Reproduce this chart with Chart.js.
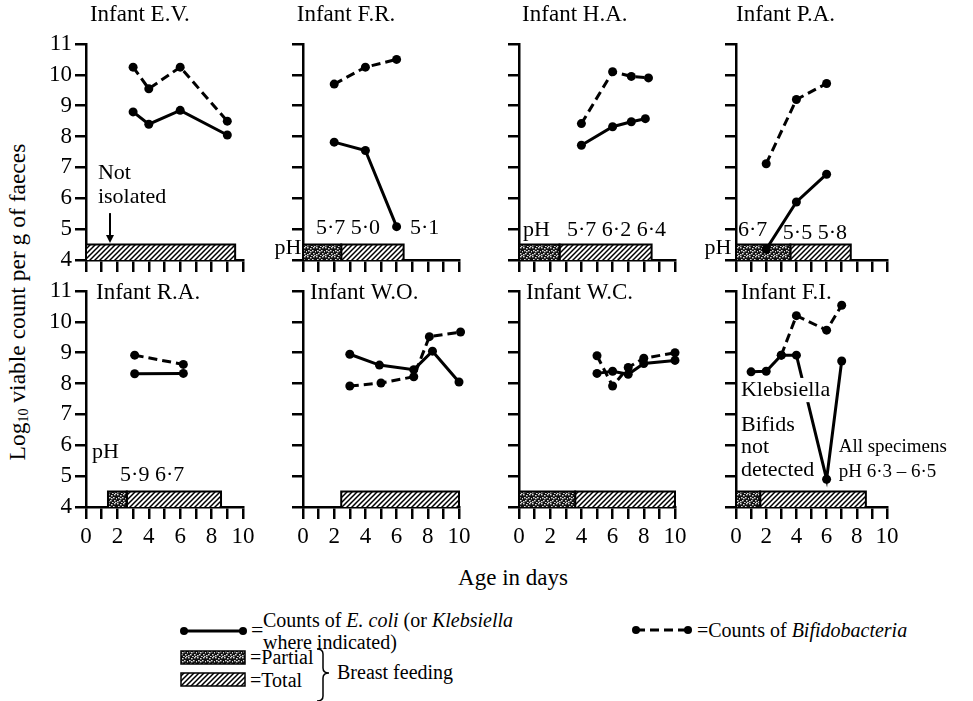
<!DOCTYPE html>
<html>
<head>
<meta charset="utf-8">
<script src="https://cdn.jsdelivr.net/npm/chart.js@4.4.1/dist/chart.umd.min.js"></script>
<style>
  body { margin: 0; background: #fff; width: 973px; height: 701px; position: relative; overflow: hidden;
         font-family: "Liberation Serif", "Times New Roman", serif; color: #000; }
  canvas { position: absolute; }
  .t { position: absolute; white-space: nowrap; line-height: 1; transform: translateY(-50%); }
  .t sub { font-size: 14px; vertical-align: -3px; }
</style>
</head>
<body>

<div class="t" style="left:18px;top:302px;font-size:23.5px;transform:translate(-50%,-50%) rotate(-90deg)">Log<sub>10</sub> viable count per g of faeces</div>
<div class="t" style="left:513px;top:577px;font-size:23px;transform:translate(-50%,-50%)">Age in days</div>

<div class="t" style="left:251px;top:630px;font-size:22px">=</div>
<div class="t" style="left:263px;top:620px;font-size:20px">Counts of <i>E. coli</i> (or <i>Klebsiella</i></div>
<div class="t" style="left:263px;top:642px;font-size:20px">where indicated)</div>
<div class="t" style="left:697px;top:630px;font-size:20px">=Counts of <i>Bifidobacteria</i></div>
<div class="t" style="left:250px;top:657px;font-size:20px">=Partial</div>
<div class="t" style="left:250px;top:680px;font-size:20px">=Total</div>
<div class="t" style="left:337px;top:672px;font-size:20px">Breast feeding</div>

<canvas id="legendKey" width="540" height="90" style="left:170px;top:612px"></canvas>

<script>
// age in days at sampling and log10 counts per g
const evColiDays = [3, 4, 6, 9];
const evColi = [8.8, 8.4, 8.85, 8.05];
const evBifDays = [3, 4, 6, 9];
const evBif = [10.25, 9.55, 10.25, 8.5];

const frColiDays = [2, 4, 6];
const frColi = [7.82, 7.55, 5.08];
const frBifDays = [2, 4, 6];
const frBif = [9.7, 10.25, 10.5];

const haColiDays = [4, 6, 7.2, 8.1];
const haColi = [7.72, 8.32, 8.48, 8.58];
const haBifDays = [4, 6, 7.2, 8.3];
const haBif = [8.42, 10.1, 9.95, 9.9];

const paColiDays = [2, 4, 6];
const paColi = [4.35, 5.88, 6.78];
const paBifDays = [2, 4, 6];
const paBif = [7.12, 9.2, 9.72];

const raColiDays = [3.1, 6.2];
const raColi = [8.32, 8.33];
const raBifDays = [3.1, 6.2];
const raBif = [8.92, 8.62];

const woColiDays = [3, 4.9, 7.1, 8.3, 10];
const woColi = [8.95, 8.6, 8.45, 9.05, 8.05];
const woBifDays = [3, 5, 7.1, 8.1, 10.1];
const woBif = [7.92, 8.02, 8.22, 9.52, 9.67];

const wcColiDays = [5, 6, 7, 8, 10];
const wcColi = [8.33, 8.4, 8.3, 8.65, 8.75];
const wcBifDays = [5, 6, 7, 8, 10];
const wcBif = [8.9, 7.92, 8.52, 8.82, 9.0];

const fiColiDays = [1, 2, 3, 4, 6, 7];
const fiColi = [8.38, 8.4, 8.92, 8.92, 4.9, 8.73];
const fiBifDays = [3, 4, 6, 7];
const fiBif = [8.92, 10.2, 9.73, 10.54];

// breast feeding periods [from day, to day]
const evPartial = null, evTotal = [0, 9.5];
const frPartial = [0, 2.45], frTotal = [2.45, 6.45];
const haPartial = [0, 2.6], haTotal = [2.6, 8.5];
const paPartial = [0, 3.6], paTotal = [3.6, 7.6];
const raPartial = [1.4, 2.6], raTotal = [2.6, 8.6];
const woPartial = null, woTotal = [2.45, 10];
const wcPartial = [0, 3.6], wcTotal = [3.6, 10];
const fiPartial = [0, 1.6], fiTotal = [1.6, 8.6];

const xTicks = [0, 2, 4, 6, 8, 10];
const yTicks = [4, 5, 6, 7, 8, 9, 10, 11];
const BAR_TOP = 4.5;

const FONT = '"Liberation Serif", "Times New Roman", serif';

// layout of the 2 x 4 grid
const colLeft = [86, 303, 519, 736];
const colWidth = [157, 156, 156, 151];
const rowTop = [44, 291];
const AREA_H = 216;
const PAD_L = 50, PAD_T = 40, PAD_R = 64, PAD_B = 45;

function hatch() {
  const c = document.createElement('canvas');
  c.width = 5; c.height = 5;
  const g = c.getContext('2d');
  g.fillStyle = '#fff'; g.fillRect(0, 0, 5, 5);
  g.strokeStyle = '#000'; g.lineWidth = 1.5;
  g.beginPath();
  g.moveTo(0, 5); g.lineTo(5, 0);
  g.moveTo(-1, 1); g.lineTo(1, -1);
  g.moveTo(4, 6); g.lineTo(6, 4);
  g.stroke();
  return g.createPattern(c, 'repeat');
}

function stipple() {
  const c = document.createElement('canvas');
  c.width = 9; c.height = 9;
  const g = c.getContext('2d');
  g.fillStyle = '#111'; g.fillRect(0, 0, 9, 9);
  g.fillStyle = '#ddd';
  [[0,0],[3,1],[6,0],[1,3],[5,3],[8,4],[2,6],[6,6],[0,7],[4,8],[7,8],[3,4]].forEach(([a, b]) => g.fillRect(a, b, 1.6, 1.4));
  return g.createPattern(c, 'repeat');
}

const hatchFill = hatch();
const stippleFill = stipple();

function makeNotes(items) {
  return {
    id: 'notes',
    afterDatasetsDraw(chart) {
      const { ctx, scales: { x, y } } = chart;
      ctx.save();
      ctx.textBaseline = 'middle';
      items.forEach(n => {
        const px = x.getPixelForValue(n.x), py = y.getPixelForValue(n.y);
        if (n.arrow) {
          const py2 = y.getPixelForValue(n.to);
          ctx.strokeStyle = '#000'; ctx.lineWidth = 2;
          ctx.beginPath(); ctx.moveTo(px, py); ctx.lineTo(px, py2 - 6); ctx.stroke();
          ctx.fillStyle = '#000';
          ctx.beginPath(); ctx.moveTo(px - 4, py2 - 8); ctx.lineTo(px + 4, py2 - 8); ctx.lineTo(px, py2); ctx.closePath(); ctx.fill();
          return;
        }
        const size = n.size || 22;
        ctx.font = size + 'px ' + FONT;
        ctx.textAlign = n.align || 'left';
        if (n.bg) {
          const w = ctx.measureText(n.text).width;
          ctx.fillStyle = '#fff';
          ctx.fillRect(px - 2, py - size * 0.55, w + 4, size * 1.1);
        }
        ctx.fillStyle = '#000';
        ctx.fillText(n.text, px, py);
      });
      ctx.restore();
    }
  };
}

const TOP_T = 11.93, BOT_T = 10.93;

const panels = [
  { col: 0, row: 0, cx: evColiDays, cy: evColi, bx: evBifDays, by: evBif, partial: evPartial, total: evTotal,
    notes: [{ text: 'Infant E.V.', x: 0.25, y: TOP_T, size: 23 },
            { text: 'Not', x: 0.76, y: 6.81 }, { text: 'isolated', x: 0.76, y: 6.04 },
            { arrow: true, x: 1.53, y: 5.52, to: 4.55 }] },
  { col: 1, row: 0, cx: frColiDays, cy: frColi, bx: frBifDays, by: frBif, partial: frPartial, total: frTotal,
    notes: [{ text: 'Infant F.R.', x: -0.4, y: TOP_T, size: 23 },
            { text: '5·7 5·0', x: 0.83, y: 5.03 }, { text: '5·1', x: 6.86, y: 5.03 },
            { text: 'pH', x: -0.1, y: 4.38, align: 'right' }] },
  { col: 2, row: 0, cx: haColiDays, cy: haColi, bx: haBifDays, by: haBif, partial: haPartial, total: haTotal,
    notes: [{ text: 'Infant H.A.', x: 0.2, y: TOP_T, size: 23 },
            { text: 'pH', x: 0.25, y: 4.97 }, { text: '5·7 6·2 6·4', x: 3.08, y: 4.97 }] },
  { col: 3, row: 0, cx: paColiDays, cy: paColi, bx: paBifDays, by: paBif, partial: paPartial, total: paTotal,
    notes: [{ text: 'Infant P.A.', x: 0, y: TOP_T, size: 23 },
            { text: '6·7', x: 0.13, y: 4.97 }, { text: '5·5 5·8', x: 3.1, y: 4.87 },
            { text: 'pH', x: -0.3, y: 4.38, align: 'right' }] },
  { col: 0, row: 1, cx: raColiDays, cy: raColi, bx: raBifDays, by: raBif, partial: raPartial, total: raTotal,
    notes: [{ text: 'Infant R.A.', x: 0.64, y: BOT_T, size: 23 },
            { text: 'pH', x: 0.38, y: 5.78 }, { text: '5·9 6·7', x: 2.17, y: 5.04 }] },
  { col: 1, row: 1, cx: woColiDays, cy: woColi, bx: woBifDays, by: woBif, partial: woPartial, total: woTotal,
    notes: [{ text: 'Infant W.O.', x: 0.45, y: BOT_T, size: 23 }] },
  { col: 2, row: 1, cx: wcColiDays, cy: wcColi, bx: wcBifDays, by: wcBif, partial: wcPartial, total: wcTotal,
    notes: [{ text: 'Infant W.C.', x: 0.45, y: BOT_T, size: 23 }] },
  { col: 3, row: 1, cx: fiColiDays, cy: fiColi, bx: fiBifDays, by: fiBif, partial: fiPartial, total: fiTotal,
    notes: [{ text: 'Infant F.I.', x: 0.33, y: BOT_T, size: 23 },
            { text: 'Klebsiella', x: 0.33, y: 7.79, bg: true },
            { text: 'Bifids', x: 0.33, y: 6.65 }, { text: 'not', x: 0.33, y: 5.95 },
            { text: 'detected', x: 0.33, y: 5.2 },
            { text: 'All specimens', x: 6.8, y: 5.95, size: 19 },
            { text: 'pH 6·3 – 6·5', x: 6.8, y: 5.14, size: 19 }] }
];

function points(xs, ys) {
  return xs.map((d, i) => ({ x: d, y: ys[i] }));
}

function feedBar(span, fill) {
  return {
    data: [{ x: span[0], y: 4 }, { x: span[0], y: BAR_TOP }, { x: span[1], y: BAR_TOP }, { x: span[1], y: 4 }],
    borderColor: '#000', borderWidth: 2, backgroundColor: fill, fill: 'start',
    pointRadius: 0, tension: 0, order: 5, clip: 2
  };
}

function series(xs, ys, dashed) {
  return {
    data: points(xs, ys),
    borderColor: '#000', backgroundColor: '#000', borderWidth: 3,
    borderDash: dashed ? [9, 5] : [],
    pointRadius: 4.5, pointBorderWidth: 0, pointBackgroundColor: '#000',
    tension: 0, fill: false, order: 1, clip: false
  };
}

panels.forEach(p => {
  const w = colWidth[p.col];
  const cv = document.createElement('canvas');
  cv.width = PAD_L + w + PAD_R;
  cv.height = PAD_T + AREA_H + PAD_B;
  cv.style.left = (colLeft[p.col] - PAD_L) + 'px';
  cv.style.top = (rowTop[p.row] - PAD_T) + 'px';
  document.body.appendChild(cv);

  const datasets = [series(p.cx, p.cy, false), series(p.bx, p.by, true)];
  if (p.partial) datasets.push(feedBar(p.partial, stippleFill));
  if (p.total) datasets.push(feedBar(p.total, hatchFill));

  new Chart(cv.getContext('2d'), {
    type: 'line',
    data: { datasets },
    options: {
      responsive: false,
      animation: false,
      layout: { padding: { left: 0, top: PAD_T, right: PAD_R, bottom: 0 } },
      plugins: { legend: { display: false }, tooltip: { enabled: false } },
      scales: {
        x: {
          type: 'linear', min: 0, max: 10,
          afterFit: s => { s.height = PAD_B; },
          border: { display: true, color: '#000', width: 2.5 },
          grid: { drawOnChartArea: false, drawTicks: true, tickLength: 12, color: '#000', lineWidth: 2.5 },
          ticks: {
            stepSize: 1, autoSkip: false, maxRotation: 0, padding: 4, color: '#000',
            font: { family: FONT, size: 23 },
            callback: v => (p.row === 1 && xTicks.includes(v)) ? String(v) : ''
          }
        },
        y: {
          type: 'linear', min: 4, max: 11,
          afterFit: s => { s.width = PAD_L; },
          border: { display: true, color: '#000', width: 2.5 },
          grid: { drawOnChartArea: false, drawTicks: true, tickLength: 11, color: '#000', lineWidth: 2.5 },
          ticks: {
            stepSize: 1, autoSkip: false, padding: 3, color: '#000',
            font: { family: FONT, size: 23 },
            callback: v => (p.col === 0 && yTicks.includes(v)) ? String(v) : ''
          }
        }
      }
    },
    plugins: [makeNotes(p.notes)]
  });
});

// legend key symbols
(function drawKey() {
  const g = document.getElementById('legendKey').getContext('2d');
  const ox = 170, oy = 612;
  g.strokeStyle = '#000'; g.fillStyle = '#000'; g.lineWidth = 3;
  function sample(x1, x2, y, dashed) {
    g.setLineDash(dashed ? [9, 5] : []);
    g.beginPath(); g.moveTo(x1 - ox, y - oy); g.lineTo(x2 - ox, y - oy); g.stroke();
    g.setLineDash([]);
    [x1, x2].forEach(x => { g.beginPath(); g.arc(x - ox, y - oy, 4, 0, Math.PI * 2); g.fill(); });
  }
  sample(184, 243, 631, false);
  sample(636, 688, 630, true);
  function swatch(y, fill) {
    g.fillStyle = fill;
    g.fillRect(181 - ox, y - oy, 64, 13);
    g.lineWidth = 1.5; g.strokeStyle = '#000';
    g.strokeRect(181 - ox, y - oy, 64, 13);
  }
  swatch(651, stippleFill);
  swatch(673, hatchFill);
  // brace
  g.strokeStyle = '#000'; g.lineWidth = 1.5;
  g.beginPath();
  g.moveTo(317 - ox, 649 - oy);
  g.quadraticCurveTo(323 - ox, 649 - oy, 323 - ox, 654 - oy);
  g.lineTo(323 - ox, 668 - oy);
  g.quadraticCurveTo(323 - ox, 673 - oy, 329 - ox, 673 - oy);
  g.quadraticCurveTo(323 - ox, 673 - oy, 323 - ox, 678 - oy);
  g.lineTo(323 - ox, 696 - oy);
  g.quadraticCurveTo(323 - ox, 701 - oy, 317 - ox, 701 - oy);
  g.stroke();
})();
</script>
</body>
</html>
